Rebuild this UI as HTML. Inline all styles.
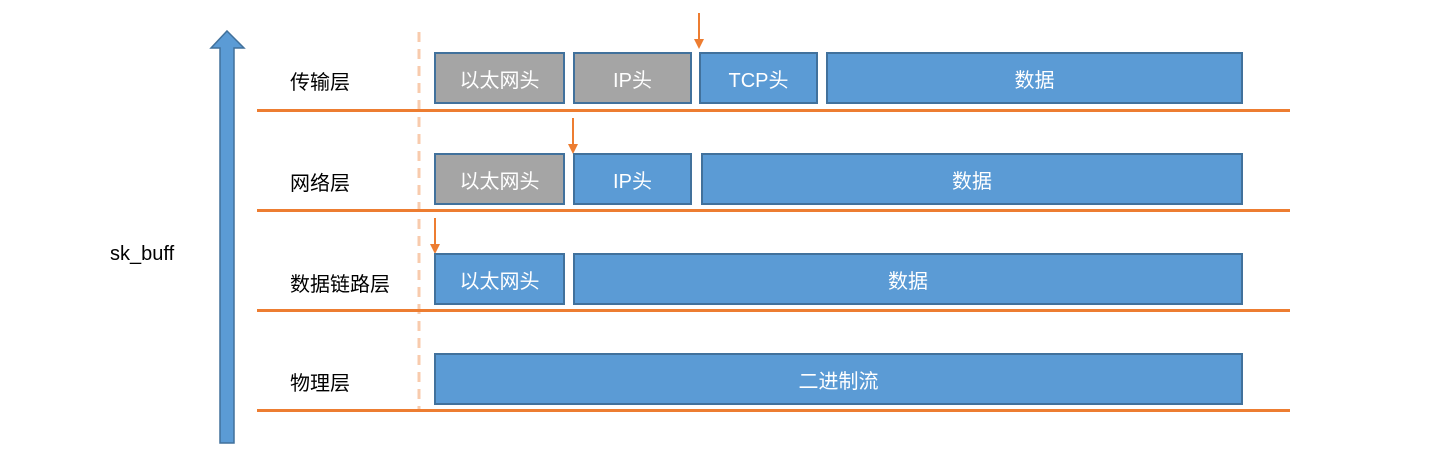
<!DOCTYPE html>
<html><head><meta charset="utf-8"><style>
body{margin:0;width:1451px;height:455px;background:#fff;position:relative;overflow:hidden;font-family:"Liberation Sans","Noto Sans CJK SC",sans-serif}
.b{position:absolute;box-sizing:border-box;border:2px solid #41719c;background:#5b9bd5;color:#fff;font-size:20px;display:flex;align-items:center;justify-content:center;height:52px}
.g{background:#a5a5a5}
.l{position:absolute;left:290px;font-size:20px;color:#000;line-height:24px}
.h{position:absolute;left:257px;width:1033px;height:3px;background:#ed7d31}
</style></head><body>
<svg width="1451" height="455" style="position:absolute;left:0;top:0">
<polygon points="227,31 244,48 234,48 234,443 220,443 220,48 211,48" fill="#5b9bd5" stroke="#41719c" stroke-width="1.5"/>
<line x1="419" y1="32" x2="419" y2="412" stroke="#f8cbad" stroke-width="3" stroke-dasharray="10,7"/>
<g stroke="#ed7d31" stroke-width="2" fill="#ed7d31">
<line x1="699" y1="13" x2="699" y2="40"/><polygon points="694,39 704,39 699,49" stroke="none"/>
<line x1="573" y1="118" x2="573" y2="145"/><polygon points="568,144 578,144 573,154" stroke="none"/>
<line x1="435" y1="218" x2="435" y2="245"/><polygon points="430,244 440,244 435,254" stroke="none"/>
</g>
</svg>
<div class="h" style="top:109px"></div><div class="h" style="top:209px"></div><div class="h" style="top:309px"></div><div class="h" style="top:409px"></div>
<div style="position:absolute;left:110px;top:243px;font-size:20px">sk_buff</div>
<div class="l" style="top:71px">传输层</div>
<div class="l" style="top:172px">网络层</div>
<div class="l" style="top:273px">数据链路层</div>
<div class="l" style="top:372px">物理层</div>
<div class="b g" style="left:434px;top:52px;width:131px">以太网头</div>
<div class="b g" style="left:573px;top:52px;width:119px">IP头</div>
<div class="b" style="left:699px;top:52px;width:119px">TCP头</div>
<div class="b" style="left:826px;top:52px;width:417px">数据</div>
<div class="b g" style="left:434px;top:153px;width:131px">以太网头</div>
<div class="b" style="left:573px;top:153px;width:119px">IP头</div>
<div class="b" style="left:701px;top:153px;width:542px">数据</div>
<div class="b" style="left:434px;top:253px;width:131px">以太网头</div>
<div class="b" style="left:573px;top:253px;width:670px">数据</div>
<div class="b" style="left:434px;top:353px;width:809px">二进制流</div>
</body></html>
